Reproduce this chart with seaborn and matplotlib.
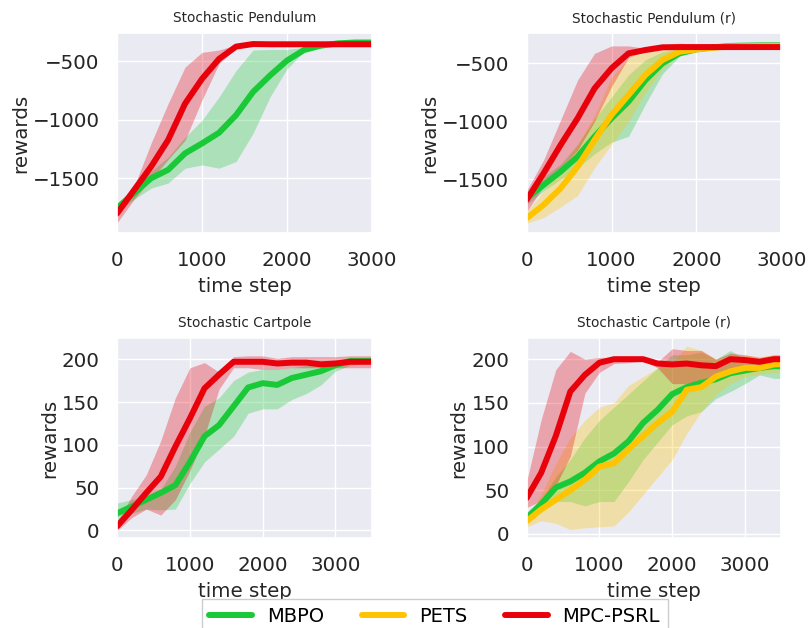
import matplotlib
matplotlib.use("Agg")
import matplotlib.pyplot as plt
import seaborn as sns

# --- DATA ---
PEND_STEPS = [0, 200, 400, 600, 800, 1000, 1200, 1400, 1600, 1800,
              2000, 2200, 2400, 2600, 2800, 3000]
CART_STEPS = [0, 200, 400, 600, 800, 1000, 1200, 1400, 1600, 1800,
              2000, 2200, 2400, 2600, 2800, 3000, 3200, 3400, 3600]

# Stochastic Pendulum
p1_mbpo = [-1753, -1626, -1500, -1428, -1287, -1202, -1111, -961, -763, -622,
           -494, -404, -367, -347, -340, -340]
p1_mbpo_lo = [-1790, -1680, -1584, -1541, -1414, -1386, -1414, -1357, -1117, -806,
              -565, -420, -370, -350, -345, -345]
p1_mbpo_hi = [-1740, -1560, -1440, -1320, -1150, -1004, -806, -580, -404, -400,
              -400, -380, -350, -340, -335, -335]
p1_mpc = [-1800, -1600, -1400, -1173, -862, -650, -480, -375, -353, -355,
          -355, -355, -355, -355, -355, -355]
p1_mpc_lo = [-1880, -1680, -1510, -1340, -1175, -830, -520, -390, -365, -365,
             -365, -365, -365, -365, -365, -365]
p1_mpc_hi = [-1760, -1570, -1200, -862, -550, -424, -404, -360, -345, -345,
             -345, -345, -345, -345, -345, -345]

# Stochastic Pendulum (r)
p2_mbpo = [-1664, -1549, -1434, -1305, -1132, -974, -830, -644, -500, -414,
           -380, -362, -350, -347, -345, -345]
p2_mbpo_lo = [-1720, -1600, -1500, -1400, -1280, -1180, -1130, -850, -590, -440,
              -390, -370, -360, -355, -350, -350]
p2_mbpo_hi = [-1620, -1480, -1370, -1200, -980, -790, -600, -470, -400, -370,
              -360, -350, -345, -340, -338, -338]
p2_pets = [-1836, -1721, -1578, -1391, -1161, -945, -773, -600, -471, -400,
           -380, -365, -355, -352, -350, -350]
p2_pets_lo = [-1880, -1830, -1740, -1640, -1400, -1200, -1000, -750, -550, -420,
              -390, -375, -365, -360, -358, -358]
p2_pets_hi = [-1780, -1600, -1420, -1200, -950, -620, -450, -360, -350, -320,
              -350, -345, -342, -340, -340, -340]
p2_mpc = [-1678, -1448, -1204, -974, -716, -543, -414, -385, -362, -360,
          -360, -360, -360, -360, -360, -360]
p2_mpc_lo = [-1780, -1560, -1400, -1250, -1000, -700, -450, -390, -370, -368,
             -368, -368, -368, -368, -368, -368]
p2_mpc_hi = [-1600, -1333, -989, -644, -414, -350, -350, -370, -355, -352,
             -352, -352, -352, -352, -352, -352]

# Stochastic Cartpole
p3_mbpo = [20, 28, 36, 44, 53, 80, 110, 123, 145, 167, 172, 170, 178, 182,
           186, 193, 198, 198, 198]
p3_mbpo_lo = [10, 20, 25, 24, 25, 55, 80, 95, 110, 137, 142, 142, 153, 160,
              170, 186, 193, 195, 195]
p3_mbpo_hi = [32, 36, 40, 48, 75, 115, 145, 155, 175, 185, 188, 188, 190, 193,
              195, 198, 200, 201, 201]
p3_mpc = [5, 24, 44, 63, 98, 131, 166, 182, 197, 197, 197, 195, 196, 196,
          194, 195, 197, 197, 197]
p3_mpc_lo = [0, 15, 25, 18, 36, 70, 110, 165, 190, 190, 188, 188, 190, 190,
             190, 190, 190, 190, 190]
p3_mpc_hi = [10, 40, 65, 105, 155, 190, 196, 185, 203, 204, 204, 201, 203, 203,
             203, 203, 204, 204, 204]

# Stochastic Cartpole (r)
p4_mbpo = [18, 34, 53, 60, 70, 83, 92, 106, 127, 142, 160, 168, 173, 177,
           184, 187, 190, 192, 192]
p4_mbpo_lo = [12, 25, 37, 37, 32, 37, 37, 60, 85, 105, 125, 135, 140, 155,
              163, 172, 182, 178, 178]
p4_mbpo_hi = [25, 40, 65, 85, 110, 130, 145, 160, 175, 190, 205, 205, 208, 200,
              210, 200, 200, 200, 200]
p4_pets = [14.5, 28, 39, 50, 62, 77, 81, 97, 112, 127, 140, 165, 168, 180,
           186, 190, 190, 194, 195]
p4_pets_lo = [8, 15, 12, 5, 7, 8, 9, 25, 45, 65, 85, 115, 140, 160,
              172, 180, 183, 185, 185]
p4_pets_hi = [20, 45, 80, 110, 130, 145, 150, 170, 180, 190, 195, 215, 210, 200,
              205, 205, 203, 205, 205]
p4_mpc = [41, 70, 112, 163, 182, 196, 200, 200, 200, 195, 194, 195, 193, 192,
          200, 199, 197, 200, 200]
p4_mpc_lo = [30, 38, 55, 89, 161, 185, 195, 196, 198, 190, 172, 172, 175, 180,
             190, 190, 190, 190, 190]
p4_mpc_hi = [60, 131, 188, 209, 200, 202, 202, 203, 200, 197, 212, 210, 210, 200,
             207, 205, 202, 205, 205]

TITLES = ["Stochastic Pendulum", "Stochastic Pendulum (r)",
          "Stochastic Cartpole", "Stochastic Cartpole (r)"]
LABELS = ["MBPO", "PETS", "MPC-PSRL"]

# --- STYLE ---
sns.set_theme(style="darkgrid")
pal = sns.color_palette("bright")
COLORS = {"MBPO": pal[2], "PETS": pal[8], "MPC-PSRL": pal[3]}
LW = 4.3
ALPHA = 0.3
FS = 14.3


def draw(ax, steps, series):
    """series: list of (label, mean, lo, hi)"""
    for label, mean, lo, hi in series:
        ax.fill_between(steps, lo, hi, color=COLORS[label], alpha=ALPHA, lw=0)
    for label, mean, lo, hi in series:
        sns.lineplot(x=steps, y=mean, ax=ax, color=COLORS[label], lw=LW,
                     label=label, legend=False)


fig, axes = plt.subplots(2, 2, figsize=(8.08, 6.28), dpi=100)
plt.subplots_adjust(left=0.145, right=0.967, top=0.947, bottom=0.143,
                    wspace=0.608, hspace=0.525)

panels = [
    (PEND_STEPS, [("MBPO", p1_mbpo, p1_mbpo_lo, p1_mbpo_hi),
                  ("MPC-PSRL", p1_mpc, p1_mpc_lo, p1_mpc_hi)],
     (0, 3000), (-1970, -261), [-1500, -1000, -500]),
    (PEND_STEPS, [("MBPO", p2_mbpo, p2_mbpo_lo, p2_mbpo_hi),
                  ("PETS", p2_pets, p2_pets_lo, p2_pets_hi),
                  ("MPC-PSRL", p2_mpc, p2_mpc_lo, p2_mpc_hi)],
     (0, 3000), (-1966, -241), [-1500, -1000, -500]),
    (CART_STEPS, [("MBPO", p3_mbpo, p3_mbpo_lo, p3_mbpo_hi),
                  ("MPC-PSRL", p3_mpc, p3_mpc_lo, p3_mpc_hi)],
     (0, 3500), (-9, 224.5), [0, 50, 100, 150, 200]),
    (CART_STEPS, [("MBPO", p4_mbpo, p4_mbpo_lo, p4_mbpo_hi),
                  ("PETS", p4_pets, p4_pets_lo, p4_pets_hi),
                  ("MPC-PSRL", p4_mpc, p4_mpc_lo, p4_mpc_hi)],
     (0, 3500), (-5, 224), [0, 50, 100, 150, 200]),
]

for ax, title, (steps, series, xl, yl, yt) in zip(axes.flat, TITLES, panels):
    draw(ax, steps, series)
    ax.set_xlim(*xl)
    ax.set_ylim(*yl)
    ax.set_xticks([0, 1000, 2000, 3000])
    ax.set_yticks(yt)
    ax.tick_params(labelsize=FS, pad=6.5)
    ax.set_title(title, fontsize=9.8, pad=8)
    ax.set_xlabel("time step", fontsize=FS, labelpad=5.5)
    ax.set_ylabel("rewards", fontsize=FS, labelpad=2)

# shared legend at the bottom, partly running off the figure edge
handles = [plt.Line2D([], [], color=COLORS[k], lw=LW) for k in LABELS]
fig.legend(handles, LABELS, loc="upper center", bbox_to_anchor=(0.538, 0.0465),
           borderaxespad=0, ncol=3, fontsize=14, frameon=True, fancybox=False,
           facecolor="white", edgecolor="#cccccc", framealpha=1,
           handlelength=2.2, handletextpad=0.75, columnspacing=1.95,
           labelcolor="black")

plt.savefig("out.png", dpi=100)
plt.close()
